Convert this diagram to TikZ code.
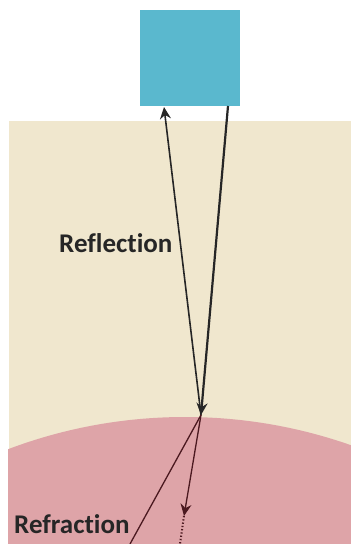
\documentclass[tikz,border=0pt]{standalone}
\usepackage{fontspec}
\setmainfont[Ligatures=NoCommon]{Carlito}
\usetikzlibrary{arrows.meta}
\definecolor{srcblue}{RGB}{90,184,206}
\definecolor{beige}{RGB}{240,231,206}
\definecolor{tissue}{RGB}{222,164,168}
\definecolor{maroon}{RGB}{75,25,32}
\tikzset{
  lbl/.style={font=\fontsize{27}{30}\selectfont\bfseries, text=black!85, inner sep=0pt, anchor=base west},
  ray/.style={draw=black!85, line width=1.6pt},
  refr/.style={draw=maroon, line width=1.3pt},
  tip/.style={-{Stealth[length=12pt,width=11pt,inset=4pt]}}
}
\begin{document}
\begin{tikzpicture}[x=1pt,y=-1pt]
\useasboundingbox (0,0) rectangle (351,544);
% media
\fill[beige] (9,121) rectangle (351,544);
\begin{scope}
  \clip (8,0) rectangle (351,544);
  \fill[tissue] (185,917) circle[radius=500];
\end{scope}
% source
\node[fill=srcblue, minimum width=100pt, minimum height=96pt, inner sep=0pt] (src) at (190,58) {};
% key points
\coordinate (inc) at (228,106);
\coordinate (ref) at (164,107);
\coordinate (hit) at (201,415);
\coordinate (refrend) at (130,544);
\coordinate (trans) at (184,516);
\coordinate (transend) at (180,544);
% rays
\draw[ray, line width=2.2pt, tip] (inc) -- (hit);
\draw[ray, tip] (hit) -- (ref);
\draw[refr] (hit) -- (refrend);
\draw[refr, tip] (hit) -- (trans);
\draw[refr, dotted, line width=2pt] (trans) -- (transend);
% labels
\node[lbl] (reflbl) at (59,252) {Reflection};
\node[lbl] (refrlbl) at (14,533) {Refraction};
\end{tikzpicture}
\end{document}
